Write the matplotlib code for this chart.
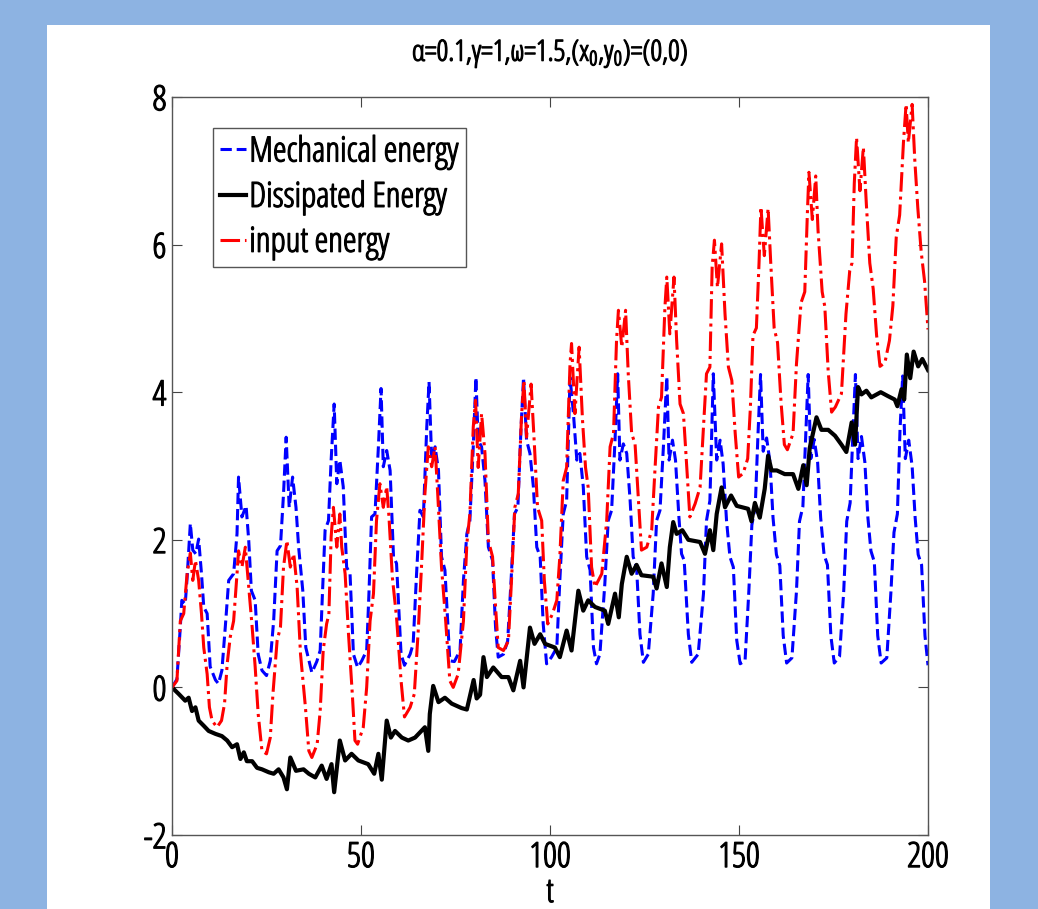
import matplotlib
matplotlib.use('Agg')
import matplotlib.pyplot as plt
from matplotlib.patches import Rectangle
import matplotlib.patheffects as pe

# Values
t_mech = [0, 1.3, 2.2, 2.6, 3.5, 4.0, 4.85, 5.5, 6.3, 7.05, 7.8, 8.4, 9.3, 10.1, 11.5, 12.3,
          13.2, 14.1, 15.0, 16.3, 17.2, 17.6, 18.5, 19.6, 20.3, 21.0, 22.0, 22.8, 23.8, 25.0,
          26.0, 26.9, 27.8, 28.7, 29.5, 30.2, 31.0, 31.9, 32.8, 33.5, 34.6, 35.4, 37.0, 38.3,
          39.2, 39.8, 40.5, 41.4, 42.1, 42.9, 43.6, 44.4, 45.3, 46.2, 47.1, 48.0, 49.1, 50.2,
          51.5, 52.1, 52.8, 53.7, 54.6, 55.3, 55.9, 56.8, 57.7, 58.6, 59.4, 60.6, 61.5, 63.0,
          63.8, 64.7, 65.6, 66.5, 67.4, 68.0, 68.7, 69.6, 70.5, 71.3, 72.2, 73.5, 74.7, 76.2,
          77.1, 78.0, 78.8, 79.7, 80.4, 81.0, 81.9, 82.8, 83.7, 84.8, 85.6, 86.3, 87.7, 88.8,
          89.7, 90.6, 91.5, 92.3, 93.0, 93.8, 94.7, 95.6, 96.5, 97.4, 98.2, 99.1, 100.4, 101.8,
          102.6, 103.5, 104.4, 105.3, 106.2, 107.1, 107.9, 108.8, 109.7, 110.6, 111.5, 112.3,
          113.2, 114.5, 115.4, 116.3, 117.2, 117.9, 118.5, 119.4, 120.3, 121.2, 122.0, 122.9,
          123.8, 124.7, 126.0, 127.3, 128.2, 129.1, 130.0, 130.9, 131.5, 132.4, 133.2, 134.1,
          134.8, 135.5, 136.6, 137.5, 139.2, 140.6, 141.4, 142.3, 143.2, 144.1, 145.0, 145.8,
          146.7, 147.6, 148.5, 149.4, 150.3, 151.6, 152.6, 153.4, 154.3, 155.0, 155.7, 156.4,
          157.3, 158.2, 159.0, 159.9, 160.8, 161.7, 162.6, 164.0, 165.2, 166.0, 166.9, 167.6,
          168.3, 169.0, 169.9, 170.8, 171.6, 172.5, 173.4, 174.3, 175.2, 176.6, 177.7, 178.5,
          179.4, 180.1, 180.8, 181.5, 182.4, 183.3, 184.1, 184.9, 185.8, 186.7, 187.6, 189.1,
          190.2, 191.0, 191.9, 192.6, 193.3, 194.0, 194.9, 195.8, 196.6, 197.4, 198.3, 199.2, 200.0]
mech = [0.0, 0.11, 0.82, 1.18, 1.13, 1.49, 2.22, 1.86, 1.81, 2.01, 1.54, 1.09, 1.0, 0.28, 0.1, 0.05,
        0.23, 0.82, 1.45, 1.54, 2.08, 2.85, 2.31, 2.46, 1.99, 1.31, 1.18, 0.45, 0.23, 0.16,
        0.36, 0.91, 1.85, 1.92, 2.62, 3.39, 2.44, 2.85, 2.44, 1.9, 1.31, 0.54, 0.2, 0.35,
        0.5, 1.27, 2.13, 2.26, 3.08, 3.84, 2.76, 3.08, 2.72, 1.63, 1.54, 0.45, 0.27, 0.36,
        0.5, 1.27, 2.31, 2.35, 3.26, 4.05, 2.99, 3.21, 2.94, 1.77, 1.68, 0.45, 0.3, 0.45,
        0.59, 1.54, 2.4, 2.31, 3.53, 4.14, 3.08, 3.26, 2.94, 1.77, 1.59, 0.36, 0.35, 0.5,
        1.45, 2.08, 2.26, 3.26, 4.2, 3.35, 3.26, 2.8, 1.9, 1.72, 0.81, 0.41, 0.45, 0.63,
        1.45, 2.35, 2.44, 3.48, 4.2, 3.35, 3.17, 2.72, 1.9, 1.77, 0.86, 0.32, 0.41, 0.54,
        1.45, 2.35, 2.53, 4.2, 3.71, 3.08, 3.17, 2.72, 1.77, 1.59, 0.54, 0.32,
        0.45, 1.4, 2.26, 2.4, 3.35, 4.25, 3.08, 3.3, 3.17, 2.53, 1.77, 1.63,
        0.72, 0.34, 0.45, 1.27, 2.26, 2.4, 3.26, 4.21, 3.08, 3.35, 3.08, 2.31,
        1.81, 1.72, 0.72, 0.34, 0.45, 1.27, 2.26, 2.53, 4.25, 3.08, 3.35, 3.03,
        2.26, 1.77, 1.63, 0.64, 0.32, 0.36, 1.3, 2.2, 2.45, 3.4, 4.24, 3.2,
        3.38, 3.05, 2.3, 1.8, 1.65, 0.7, 0.33, 0.4, 1.3, 2.25, 2.45, 3.35,
        4.24, 3.1, 3.36, 3.05, 2.3, 1.8, 1.66, 0.7, 0.33, 0.42, 1.3, 2.25,
        2.5, 3.4, 4.24, 3.1, 3.4, 3.05, 2.3, 1.85, 1.7, 0.7, 0.33, 0.4,
        1.3, 2.1, 2.35, 3.5, 4.22, 3.1, 3.35, 3.0, 2.3, 1.8, 1.66, 0.7, 0.3]

t_diss = [0, 1.8, 3.5, 4.4, 5.3, 6.2, 7.05, 8.4, 9.7, 11.5, 13.2, 14.6, 15.9, 17.2, 18.1, 19.0,
          19.8, 21.2, 22.5, 23.8, 25.6, 26.9, 28.2, 29.5, 30.4, 31.3, 32.8, 34.8, 36.2, 37.9,
          39.6, 40.9, 42.2, 42.9, 44.4, 45.8, 47.5, 49.3, 51.9, 53.5, 54.6, 55.5, 56.8, 57.9,
          59.0, 60.8, 62.5, 64.3, 66.9, 67.8, 68.2, 69.1, 70.5, 72.2, 74.0, 76.6, 78.0, 79.8,
          80.6, 81.5, 82.4, 83.3, 85.0, 87.2, 89.0, 90.3, 92.1, 93.0, 94.7, 95.9, 97.4, 98.7,
          101.3, 102.6, 104.4, 105.7, 107.5, 108.8, 110.1, 111.9, 114.5, 115.4, 117.2, 118.2,
          119.0, 120.3, 121.6, 122.9, 124.2, 127.3, 128.2, 129.5, 130.9, 131.7, 132.6, 133.5,
          135.0, 136.6, 139.7, 141.0, 142.3, 143.2, 144.1, 145.4, 146.3, 147.9, 149.4, 152.4,
          153.3, 154.2, 155.5, 156.8, 157.7, 158.6, 160.0, 162.1, 164.3, 165.7, 167.0, 167.9,
          168.7, 170.5, 171.8, 173.6, 175.4, 177.1, 178.4, 179.8, 180.7, 181.5, 182.4, 183.7,
          185.0, 187.5, 189.3, 191.2, 191.9, 193.0, 193.7, 194.4, 195.3, 196.2, 197.4, 198.5, 200.0]
diss = [0.0, -0.09, -0.18, -0.14, -0.32, -0.27, -0.45, -0.52, -0.59, -0.63, -0.66, -0.72, -0.81, -0.77, -0.97, -0.88,
        -1.0, -1.0, -1.09, -1.11, -1.15, -1.17, -1.11, -1.22, -1.38, -0.95, -1.13, -1.11, -1.17, -1.22,
        -1.06, -1.24, -1.04, -1.42, -0.72, -0.99, -0.9, -0.99, -1.04, -1.17, -0.9, -1.25, -0.45, -0.68,
        -0.59, -0.68, -0.72, -0.68, -0.54, -0.86, -0.36, 0.02, -0.2, -0.14, -0.22, -0.28, -0.3, 0.1,
        -0.15, -0.1, 0.41, 0.14, 0.27, 0.14, 0.14, -0.04, 0.36, 0.0, 0.81, 0.59, 0.72, 0.59,
        0.54, 0.41, 0.77, 0.5, 1.31, 1.04, 1.18, 1.09, 1.04, 0.86, 1.27, 0.95,
        1.4, 1.77, 1.54, 1.66, 1.52, 1.5, 1.34, 1.68, 1.36, 1.9, 2.24, 2.08,
        2.13, 2.0, 1.97, 1.81, 2.13, 1.86, 2.35, 2.71, 2.44, 2.6, 2.46, 2.42,
        2.25, 2.5, 2.3, 2.69, 3.14, 2.94, 2.94, 2.89, 2.89, 2.69, 3.01, 2.74,
        3.24, 3.66, 3.49, 3.49, 3.41, 3.29, 3.19, 3.59, 3.29, 4.07, 3.97, 4.02,
        3.93, 4.0, 3.95, 3.9, 3.81, 4.04, 3.9, 4.51, 4.19, 4.55, 4.35, 4.45, 4.3]

t_input = [0, 1.3, 2.2, 3.1, 4.0, 4.85, 5.5, 6.2, 7.05, 7.8, 8.4, 9.3, 9.9, 10.6, 11.9, 13.1,
           13.9, 14.6, 15.4, 16.3, 17.2, 17.6, 18.5, 19.4, 20.3, 21.2, 22.0, 22.8, 23.8, 25.0,
           26.0, 26.7, 27.8, 28.7, 29.5, 30.4, 31.3, 32.2, 33.1, 34.0, 35.3, 36.2, 37.0, 38.4,
           39.2, 40.0, 40.9, 41.5, 42.1, 42.7, 43.6, 44.4, 44.9, 45.8, 46.7, 47.7, 48.4, 49.1,
           50.6, 51.5, 52.4, 53.3, 54.1, 55.0, 55.9, 56.8, 57.4, 58.3, 59.4, 60.6, 61.5, 63.0,
           64.1, 65.2, 66.0, 66.9, 67.8, 68.7, 69.6, 70.3, 71.3, 72.4, 73.5, 74.4, 75.7, 77.1,
           78.0, 78.8, 79.7, 80.3, 81.0, 81.9, 82.8, 83.7, 84.8, 85.6, 86.3, 87.7, 89.0, 89.9,
           90.7, 91.6, 92.5, 93.1, 93.8, 95.0, 95.9, 96.7, 97.8, 98.5, 99.4, 100.6, 101.8, 102.6,
           103.5, 104.4, 105.3, 105.7, 106.6, 107.7, 108.6, 109.4, 110.1, 111.0, 111.9, 113.7,
           115.0, 115.9, 116.8, 117.6, 118.1, 119.0, 120.0, 120.7, 121.6, 122.5, 123.4, 124.2,
           125.6, 126.9, 127.8, 128.7, 129.5, 130.4, 130.9, 131.7, 132.8, 133.5, 134.4, 135.3,
           136.2, 137.0, 138.4, 139.7, 140.6, 141.4, 142.3, 142.9, 143.5, 144.3, 145.4, 146.3,
           147.2, 148.1, 149.0, 149.9, 151.1, 152.3, 153.0, 153.7, 154.6, 155.3, 155.8, 156.7,
           157.7, 158.4, 159.3, 160.2, 161.1, 162.0, 162.8, 164.3, 165.2, 166.4, 167.4, 168.1,
           168.5, 169.4, 170.3, 170.9, 172.0, 172.7, 173.6, 174.5, 175.5, 177.1, 178.3, 179.3,
           179.9, 180.5, 181.1, 182.0, 182.9, 183.7, 184.6, 185.5, 186.4, 187.3, 188.6, 189.8,
           190.7, 191.6, 192.5, 193.5, 194.2, 194.8, 195.8, 196.5, 197.3, 198.2, 199.1, 200.0]
inp = [0.0, 0.09, 0.9, 1.0, 1.54, 1.82, 1.45, 1.72, 1.45, 1.0, 0.54, 0.18, -0.27, -0.45, -0.54, -0.45,
       -0.22, 0.32, 0.68, 0.9, 1.54, 1.85, 1.63, 1.9, 1.36, 0.82, 0.28, -0.36, -0.86, -0.9,
       -0.68, -0.09, 0.63, 0.82, 1.63, 1.99, 1.63, 1.81, 1.36, 0.45, -0.27, -0.86, -0.95, -0.77,
       -0.32, 0.5, 0.86, 0.99, 2.04, 2.44, 1.9, 2.35, 1.9, 1.54, 0.72, -0.09, -0.72, -0.77,
       -0.54, 0.0, 0.9, 1.27, 2.26, 2.76, 2.44, 2.72, 2.31, 1.49, 0.95, 0.09, -0.4, -0.27,
       -0.09, 0.82, 1.63, 2.62, 3.26, 2.99, 3.26, 2.62, 1.63, 0.9, 0.09, 0.0, 0.18, 0.9,
       1.95, 2.35, 3.53, 3.89, 2.98, 3.71, 3.17, 1.99, 1.77, 1.09, 0.54, 0.5, 0.63, 1.54,
       2.44, 2.62, 3.71, 4.16, 3.39, 4.11, 3.26, 2.44, 2.26, 1.45, 0.86, 0.99, 1.18, 1.77,
       2.8, 2.98, 4.39, 4.66, 3.71, 4.61, 3.62, 2.98, 2.71, 1.63, 1.36, 1.54,
       2.26, 3.26, 3.44, 4.7, 5.11, 4.61, 5.11, 4.25, 3.44, 3.3, 2.53, 1.86,
       1.9, 2.13, 2.98, 3.8, 3.93, 5.15, 5.56, 4.79, 5.56, 4.7, 3.84, 3.71,
       2.98, 2.31, 2.49, 2.71, 3.53, 4.25, 4.34, 5.7, 6.06, 5.42, 6.01, 5.06,
       4.34, 4.16, 3.44, 2.85, 2.9, 3.1, 3.78, 4.77, 4.87, 5.75, 6.51, 5.85,
       6.49, 5.75, 4.87, 4.67, 3.88, 3.29, 3.22, 3.44, 4.38, 5.21, 5.36, 6.44,
       6.98, 6.34, 6.93, 6.2, 5.36, 5.16, 4.28, 3.73, 3.8, 3.98, 5.06, 5.65,
       5.75, 6.83, 7.45, 6.73, 7.32, 6.54, 5.75, 5.4, 4.77, 4.35, 4.4, 4.7,
       5.17, 6.1, 6.4, 7.38, 7.9, 7.38, 7.9, 7.15, 6.5, 5.9, 5.5, 4.85]

x_ticks = [0, 50, 100, 150, 200]
y_ticks = [-2, 0, 2, 4, 6, 8]
title = 'α=0.1,γ=1,ω=1.5,(x$_0$,y$_0$)=(0,0)'

# narrow, tall lettering like the MATLAB export
plt.rcParams['font.family'] = ['Open Sans', 'DejaVu Sans']
plt.rcParams['font.stretch'] = 'condensed'
plt.rcParams['axes.unicode_minus'] = False
plt.rcParams['mathtext.fontset'] = 'custom'
plt.rcParams['mathtext.rm'] = 'Open Sans:stretch=condensed'
plt.rcParams['mathtext.it'] = 'Open Sans:stretch=condensed'
plt.rcParams['mathtext.default'] = 'rm'
heavy = [pe.withStroke(linewidth=0.9, foreground='black')]

fig = plt.figure(figsize=(10.38, 9.09), dpi=100, facecolor='#8db3e2')
# white panel behind the axes
panel = Rectangle((47 / 1038, 0), (990 - 47) / 1038, (909 - 25) / 909,
                  transform=fig.transFigure, facecolor='white', edgecolor='none', zorder=-10)
fig.add_artist(panel)

ax = fig.add_axes([172 / 1038, (909 - 835) / 909, 756 / 1038, 738 / 909])
ax.set_zorder(1)
ax.plot(t_mech, mech, color='#0000ff', linestyle='--', linewidth=2.2, label='Mechanical energy')
ax.plot(t_diss, diss, color='black', linestyle='-', linewidth=3.0, label='Dissipated Energy')
ax.plot(t_input, inp, color='#ff0000', linestyle='-.', linewidth=2.2, label='input energy')

ax.set_xlim(0, 200)
ax.set_ylim(-2, 8)
ax.set_xticks(x_ticks)
ax.set_yticks(y_ticks)
ax.tick_params(direction='in', length=7, width=0.8, top=True, right=True,
               labelsize=25, pad=4, color='#444444')
for lab in ax.get_xticklabels() + ax.get_yticklabels():
    lab.set_path_effects(heavy)
for s in ax.spines.values():
    s.set_color('#555555')
    s.set_linewidth(1.0)

ax.set_title(title, fontsize=21, pad=26, path_effects=heavy)
ax.set_xlabel('t', fontsize=24, labelpad=1, path_effects=heavy)

leg = ax.legend(loc='upper left', bbox_to_anchor=(0.054, 0.958), fontsize=25,
                handlelength=0.75, handletextpad=0.1, borderpad=0.2,
                labelspacing=0.3, fancybox=False, framealpha=1, borderaxespad=0)
leg.get_frame().set_edgecolor('#555555')
leg.get_frame().set_linewidth(1.0)
for txt in leg.get_texts():
    txt.set_path_effects(heavy)

fig.savefig('out.png', dpi=100, facecolor=fig.get_facecolor())
